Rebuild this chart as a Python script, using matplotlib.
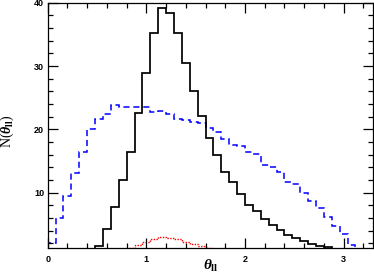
import numpy as np
import matplotlib
matplotlib.use("Agg")
import matplotlib.pyplot as plt
from matplotlib.ticker import MultipleLocator

plt.rcParams['mathtext.fontset'] = 'custom'
plt.rcParams['mathtext.rm'] = 'Liberation Serif:bold'
plt.rcParams['mathtext.it'] = 'Liberation Serif:italic:bold'

# histogram bins of width 0.08 from 0 to 3.2
edges = np.round(np.arange(0, 3.2001, 0.08), 2)

# blue dashed histogram, bins 0..39
blue = [2.0, 6.0, 9.4, 13.1, 16.4, 20.1, 21.6, 22.4, 23.8, 23.5,
        23.6, 23.5, 23.6, 22.7, 22.9, 22.5, 21.6, 21.4, 21.1, 21.0,
        20.2, 19.6, 18.5, 17.6, 17.3, 16.4, 16.1, 14.4, 14.1, 13.2,
        11.7, 11.4, 9.95, 8.7, 7.5, 6.2, 4.7, 3.4, 1.8, 0.0]

# black solid histogram
black = [0, 0, 0, 0, 0, 0, 1.6, 4.2, 7.65, 12.0,
         16.35, 22.55, 28.9, 35.3, 39.1, 38.4, 35.2, 30.5, 26.0, 22.1,
         18.6, 16.0, 13.25, 11.65, 9.8, 8.1, 7.05, 5.9, 4.95, 4.1,
         3.35, 2.9, 2.4, 1.9, 1.6, 1.4, 0, 0, 0, 0]

# red dotted histogram
red = [0, 0, 0, 0, 0, 0, 0, 0, 0, 0,
       1.2, 1.7, 2.2, 2.6, 2.95, 2.75, 2.6, 2.2, 1.85, 1.5,
       1.25, 1.1, 0, 0, 0, 0, 0, 0, 0, 0,
       0, 0, 0, 0, 0, 0, 0, 0, 0, 0]

fig = plt.figure(figsize=(3.74, 2.77), dpi=100)
ax = fig.add_axes([0.1275, 0.1036, 0.8705, 0.8864])

ax.stairs(blue, edges, color='#0000ff', linestyle=(0, (4, 2.5)), linewidth=1.1)
ax.stairs(black, edges, color='black', linewidth=1.25)
ax.stairs(red, edges, color='#ff0000', linestyle=(0, (1, 1)), linewidth=1.0)

ax.set_xlim(0, 3.3)
ax.set_ylim(1.2, 40)

ax.xaxis.set_major_locator(MultipleLocator(1))
ax.xaxis.set_minor_locator(MultipleLocator(0.2))
ax.yaxis.set_major_locator(MultipleLocator(10))
ax.yaxis.set_minor_locator(MultipleLocator(2))
ax.tick_params(which='both', direction='in', top=True, right=True, width=0.9)
ax.tick_params(which='major', length=7.2)
ax.tick_params(which='minor', length=3.6)
ax.tick_params(axis='x', pad=5)
ax.tick_params(axis='y', pad=2.5)
for lab in ax.get_xticklabels() + ax.get_yticklabels():
    lab.set_fontsize(6.5)
    lab.set_fontweight('bold')
    lab.set_family('Liberation Sans')
for sp in ax.spines.values():
    sp.set_linewidth(0.9)

ax.set_xlabel(r'$\theta_{\rm ll}$', fontsize=11)
ax.xaxis.set_label_coords(0.5, -0.04)
ax.set_ylabel(r'N($\theta_{\rm ll}$)', fontsize=10, family='Liberation Serif')
ax.yaxis.set_label_coords(-0.097, 0.478)

fig.savefig('out.png', dpi=100)
